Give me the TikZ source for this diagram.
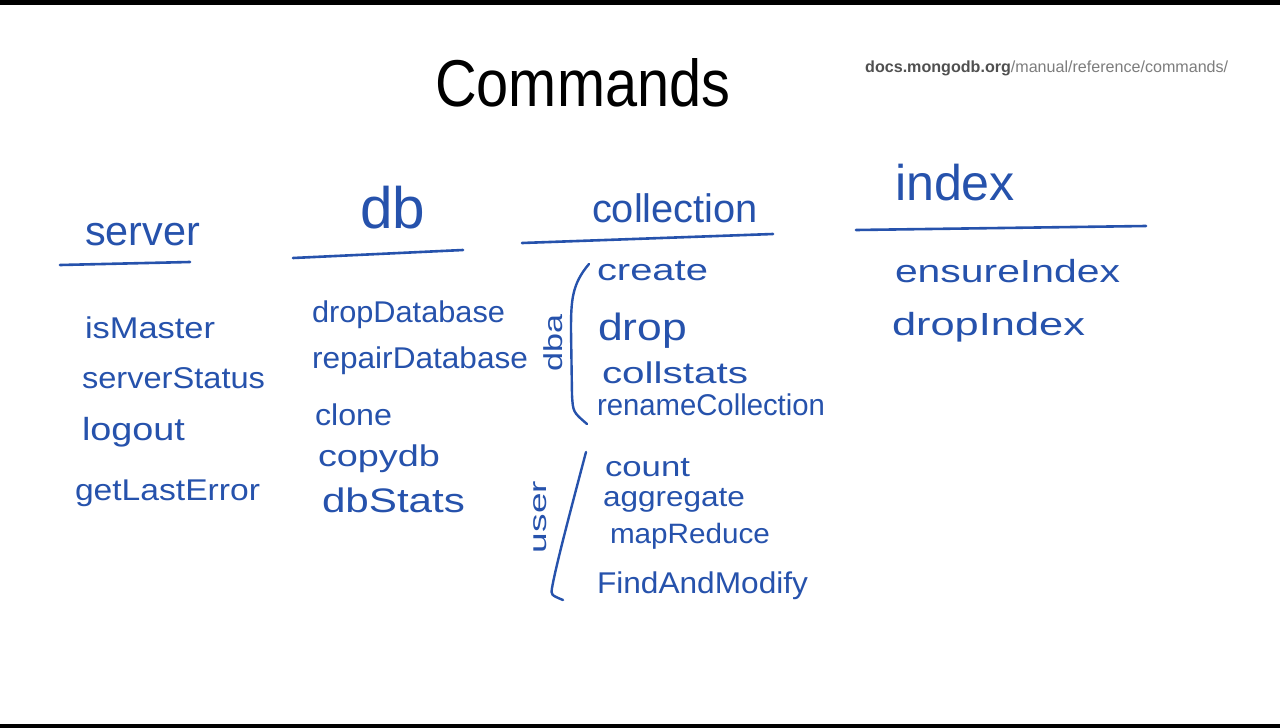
\documentclass[tikz,border=0pt]{standalone}
\usepackage{fontspec}
\setmainfont{Liberation Sans}
\usepackage{graphicx}
\definecolor{pen}{RGB}{38,82,172}
\definecolor{urlA}{RGB}{80,80,80}
\definecolor{urlB}{RGB}{125,125,125}
% item text: fixed size, stretched to the given width
\newcommand{\fitw}[3][30]{\resizebox{#2pt}{\height}{\fontsize{#1}{#1}\selectfont #3}}
% header text: scaled to width keeping proportions
\newcommand{\fith}[2]{\resizebox{#1pt}{!}{#2}}
\begin{document}
\begin{tikzpicture}[x=1pt,y=-1pt,
  hw/.style={inner sep=0pt, outer sep=0pt, anchor=base west, text=pen},
  side/.style={inner sep=0pt, outer sep=0pt, anchor=center, text=pen, rotate=90},
  rule/.style={draw=pen, line width=2.6pt, line cap=round},
  bracket/.style={draw=pen, line width=2.4pt, line cap=round, line join=round}]
\useasboundingbox (0,0) rectangle (1280,728);
\fill[white] (0,0) rectangle (1280,728);
\fill[black] (0,0) rectangle (1280,5);
\fill[black] (0,724) rectangle (1280,728);

% title and url
\node (title) [inner sep=0pt, anchor=base west, text=black] at (435,106) {\resizebox{295pt}{48pt}{Commands}};
\node (url) [inner sep=0pt, anchor=base west] at (865,72) {\resizebox{363pt}{!}{\textcolor{urlA}{\textbf{docs.mongodb.org}}\textcolor{urlB}{/manual/reference/commands/}}};

% headers
\node (hserver) [hw] at (85,245) {\fith{115}{server}};
\node (hdb) [hw] at (360,228) {\fith{65}{db}};
\node (hcoll) [hw] at (592,222) {\fith{166}{collection}};
\node (hindex) [hw] at (895,200) {\fith{120}{index}};

% underlines
\draw[rule] (60,265) -- (190,262);
\draw[rule] (293,258) -- (463,250);
\draw[rule] (522,243) -- (773,234);
\draw[rule] (856,230) -- (1146,226);

% server
\node (isMaster) [hw] at (85,338) {\fitw{130}{isMaster}};
\node (serverStatus) [hw] at (82,388) {\fitw{183}{serverStatus}};
\node (logout) [hw] at (82,440) {\fitw[32]{103}{logout}};
\node (getLastError) [hw] at (75,500) {\fitw{185}{getLastError}};

% db
\node (dropDatabase) [hw] at (312,322) {\fitw{193}{dropDatabase}};
\node (repairDatabase) [hw] at (312,368) {\fitw{216}{repairDatabase}};
\node (clone) [hw] at (315,425) {\fitw{77}{clone}};
\node (copydb) [hw] at (318,466) {\fitw{122}{copydb}};
\node (dbStats) [hw] at (322,512) {\fitw[34]{143}{dbStats}};

% collection
\node (create) [hw] at (597,280) {\fitw{111}{create}};
\node (drop) [hw] at (598,340) {\fitw[38]{89}{drop}};
\node (collstats) [hw] at (602,383) {\fitw{146}{collstats}};
\node (renameCollection) [hw] at (597,415) {\fitw{228}{renameCollection}};
\node (count) [hw] at (605,476) {\fitw[28]{85}{count}};
\node (aggregate) [hw] at (603,506) {\fitw[28]{142}{aggregate}};
\node (mapReduce) [hw] at (610,543) {\fitw[28]{160}{mapReduce}};
\node (FindAndModify) [hw] at (597,593) {\fitw{211}{FindAndModify}};

% brackets and side labels
\draw[bracket] (589,264) .. controls (572,284) and (571,300) .. (571,330) -- (572,395) .. controls (573,412) .. (587,424);
\draw[bracket] (586,452) .. controls (572,505) and (556,565) .. (552,588) .. controls (551,595) .. (563,600);
\node (dba) [side] at (553,343) {\fitw[26]{57}{dba}};
\node (user) [side] at (540,517) {\fitw[24]{72}{user}};

% index
\node (ensureIndex) [hw] at (895,282) {\fitw[32]{225}{ensureIndex}};
\node (dropIndex) [hw] at (892,335) {\fitw[32]{193}{dropIndex}};
\end{tikzpicture}
\end{document}
